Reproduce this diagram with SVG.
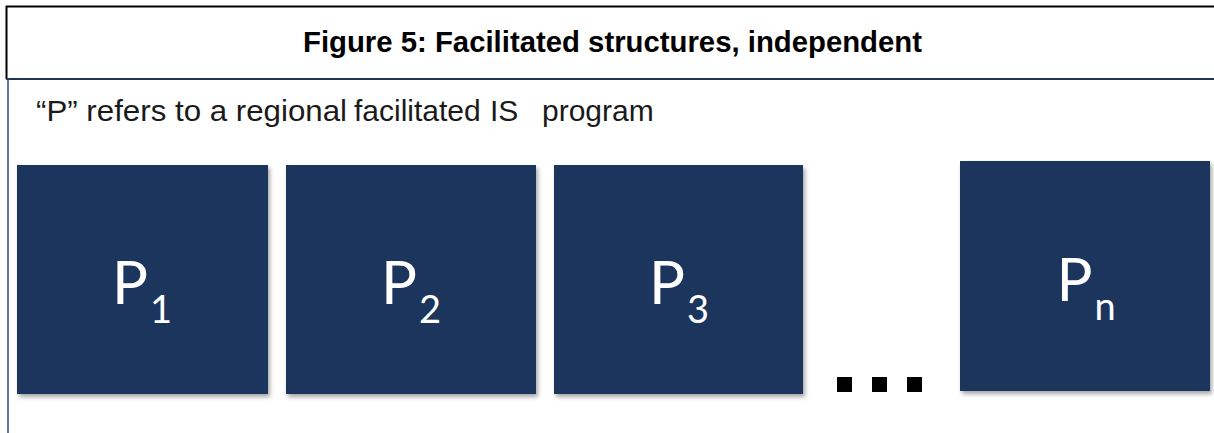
<svg xmlns="http://www.w3.org/2000/svg" width="1214" height="433" viewBox="0 0 1214 433">
  <style>
    .title { font-family: "Liberation Sans", Arial, sans-serif; font-weight: bold; font-size: 29px; fill: #000; }
    .note { font-family: "Liberation Sans", Arial, sans-serif; font-size: 30px; fill: #1a1a1a; }
    .box { fill: #1a365d; filter: url(#shadow); }
    .lbl { font-family: Lato, "Open Sans", sans-serif; font-size: 60px; fill: #fff; }
    .sub { font-size: 38px; }
    .dot { fill: #000; }
  </style>
  <defs>
    <filter id="shadow" x="-10%" y="-10%" width="130%" height="130%">
      <feDropShadow dx="2" dy="3" stdDeviation="2" flood-color="#000" flood-opacity="0.35"/>
    </filter>
  </defs>
  <rect width="1214" height="433" fill="#fff"/>
  <g id="frame">
    <path d="M6.5 79 V6.5 H1214" fill="none" stroke="#000" stroke-width="2"/>
    <line x1="6" y1="79" x2="1214" y2="79" stroke="#1f3550" stroke-width="2"/>
    <line x1="8" y1="79" x2="8" y2="433" stroke="#2b4a78" stroke-width="1.5"/>
  </g>
  <g id="title">
    <text class="title" x="303" y="52" textLength="619" lengthAdjust="spacingAndGlyphs">Figure 5: Facilitated structures, independent</text>
  </g>
  <g id="note">
    <text class="note" y="121"><tspan x="36" textLength="311" lengthAdjust="spacingAndGlyphs">“P” refers to a regional</tspan><tspan x="354">facilitated</tspan><tspan x="490">IS</tspan><tspan x="542">program</tspan></text>
  </g>
  <g id="p1">
    <rect class="box" x="17" y="165" width="251" height="229"/>
    <text class="lbl" x="142" y="304" text-anchor="middle">P<tspan class="sub" dx="2" dy="19">1</tspan></text>
  </g>
  <g id="p2">
    <rect class="box" x="286" y="165" width="250" height="229"/>
    <text class="lbl" x="411" y="304" text-anchor="middle">P<tspan class="sub" dx="2" dy="19">2</tspan></text>
  </g>
  <g id="p3">
    <rect class="box" x="554" y="165" width="249" height="229"/>
    <text class="lbl" x="679" y="304" text-anchor="middle">P<tspan class="sub" dx="2" dy="19">3</tspan></text>
  </g>
  <g id="ellipsis">
    <rect class="dot" x="837" y="377" width="15" height="15"/>
    <rect class="dot" x="872" y="377" width="15" height="15"/>
    <rect class="dot" x="907" y="377" width="15" height="15"/>
  </g>
  <g id="pn">
    <rect class="box" x="960" y="161" width="250" height="230"/>
    <text class="lbl" x="1086" y="301" text-anchor="middle">P<tspan class="sub" dx="2" dy="19">n</tspan></text>
  </g>
  <g id="connectors"/>
</svg>
